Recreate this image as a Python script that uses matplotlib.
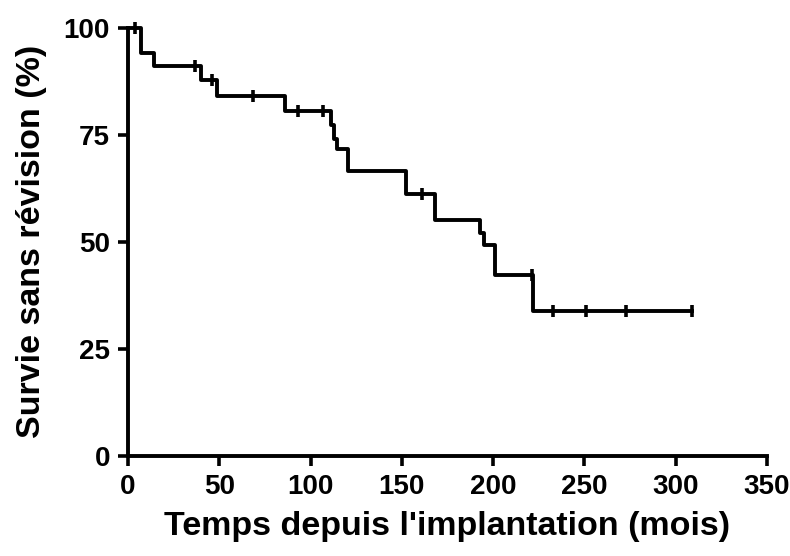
import numpy as np
import matplotlib.pyplot as plt

plt.rcParams['font.family'] = ['Liberation Sans', 'DejaVu Sans']
plt.rcParams['font.weight'] = 'bold'

# Kaplan-Meier steps (mois, %)
times = [0, 7, 14, 40, 48.5, 86, 111, 113, 114.5, 120.5, 152, 168, 193, 195, 201, 222, 309]
survie = [100, 94.2, 91, 87.7, 84, 80.5, 77.3, 74, 71.6, 66.6, 61.2, 55.2, 52, 49.2, 42.2, 33.9, 33.9]

# censored observations
cens_t = [4, 36.7, 45.8, 68.6, 93, 107, 160.8, 221, 233, 251, 273, 309]
cens_s = [100, 91, 87.7, 84, 80.5, 80.5, 61.2, 42.2, 33.9, 33.9, 33.9, 33.9]

xticks = [0, 50, 100, 150, 200, 250, 300, 350]
yticks = [0, 25, 50, 75, 100]

fig = plt.figure(figsize=(7.9, 5.56), dpi=100)
ax = fig.add_axes([0.162, 0.18, 0.809, 0.77])

ax.step(times, survie, where='post', color='black', lw=2.8, clip_on=False)
ax.plot(cens_t, cens_s, ls='none', marker='|', ms=9, mew=2.6, color='black', clip_on=False)

ax.set_xlim(0, 350)
ax.set_ylim(0, 100)
ax.set_xticks(xticks)
ax.set_yticks(yticks)
ax.tick_params(labelsize=20, width=2.6, length=7, pad=6)
for lab in ax.get_xticklabels() + ax.get_yticklabels():
    lab.set_fontweight('bold')

for s in ['top', 'right']:
    ax.spines[s].set_visible(False)
for s in ['left', 'bottom']:
    ax.spines[s].set_linewidth(2.8)

ax.set_xlabel("Temps depuis l'implantation (mois)", fontsize=24.5, fontweight='bold', labelpad=8)
ax.set_ylabel("Survie sans révision (%)", fontsize=24.5, fontweight='bold', labelpad=12)

fig.savefig("out.png", dpi=100)
